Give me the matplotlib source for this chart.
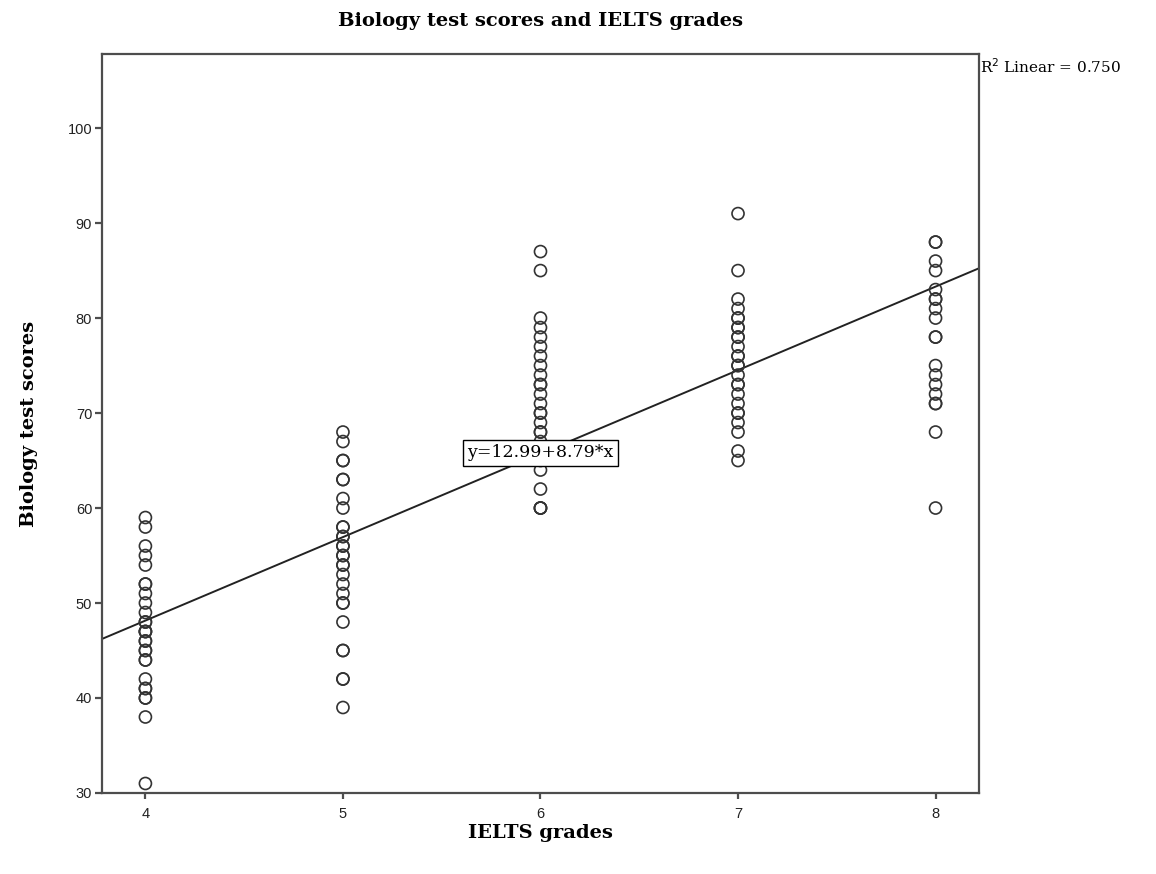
"""Scatter: Biology test scores vs IELTS grades, with linear fit line."""
import matplotlib
matplotlib.use("Agg")
import matplotlib.pyplot as plt
import numpy as np

# scores, one list per IELTS grade
grades = [4, 5, 6, 7, 8]
scores_4 = [59, 58, 56, 55, 54, 52, 52, 51, 50, 49, 48, 48, 47, 47, 47, 46, 46,
            45, 45, 44, 44, 42, 41, 41, 40, 40, 38, 31]
scores_5 = [68, 67, 65, 65, 63, 63, 61, 60, 58, 58, 57, 57, 56, 56, 55, 55, 54,
            54, 53, 52, 51, 50, 50, 48, 45, 45, 42, 42, 39]
scores_6 = [87, 85, 80, 79, 78, 77, 76, 75, 74, 73, 73, 72, 71, 70, 70, 69, 68,
            68, 67, 66, 65, 64, 62, 60, 60, 60]
scores_7 = [91, 85, 82, 81, 80, 80, 79, 79, 78, 78, 77, 76, 76, 75, 75, 74, 73,
            73, 72, 71, 70, 70, 69, 68, 66, 65]
scores_8 = [88, 88, 86, 85, 83, 82, 82, 81, 80, 78, 78, 75, 74, 73, 72, 71, 71,
            68, 60]
intercept, slope = 12.99, 8.79
r2 = 0.750

SERIF = ["DejaVu Serif", "Liberation Serif"]
SANS = ["Liberation Sans", "DejaVu Sans"]
EDGE = "#4d4d4d"

fig = plt.figure(figsize=(11.56, 8.74), dpi=100)
ax = fig.add_axes([0.0882, 0.0927, 0.7587, 0.8455])

for g, sc in zip(grades, [scores_4, scores_5, scores_6, scores_7, scores_8]):
    ax.scatter([g] * len(sc), sc, s=75, facecolors="none",
               edgecolors="#333333", linewidths=1.2, zorder=3)

xlim = (3.78, 8.22)
xs = np.array(xlim)
ax.plot(xs, intercept + slope * xs, color="#222222", lw=1.4, zorder=2)
ax.text(6.0, 65.8, f"y={intercept:.2f}+{slope:.2f}*x", family=SERIF, fontsize=12.5,
        ha="center", va="center", zorder=4,
        bbox=dict(boxstyle="square,pad=0.28", fc="white", ec="black", lw=1))

ax.set_xlim(*xlim); ax.set_ylim(30, 107.8)
ax.set_xticks(grades)
ax.set_yticks(range(30, 101, 10))
for s in ax.spines.values():
    s.set_color(EDGE); s.set_linewidth(1.6)
ax.tick_params(axis="x", length=4, width=1.6, color=EDGE, labelsize=10.5, pad=6)
ax.tick_params(axis="y", length=5, width=1.6, color=EDGE, labelsize=10.5, pad=2)
for lab in ax.get_xticklabels() + ax.get_yticklabels():
    lab.set_family(SANS); lab.set_color("#222222")

ax.set_title("Biology test scores and IELTS grades", family=SERIF, fontsize=14,
             fontweight="bold", pad=20)
ax.set_xlabel("IELTS grades", family=SERIF, fontsize=14, fontweight="bold", labelpad=2)
ax.set_ylabel("Biology test scores", family=SERIF, fontsize=14, fontweight="bold", labelpad=21)

fig.text(0.848, 0.916, f"R$^2$ Linear = {r2:.3f}", family=SERIF, fontsize=11,
         ha="left", va="baseline")

fig.savefig("out.png", dpi=100)
plt.close(fig)
